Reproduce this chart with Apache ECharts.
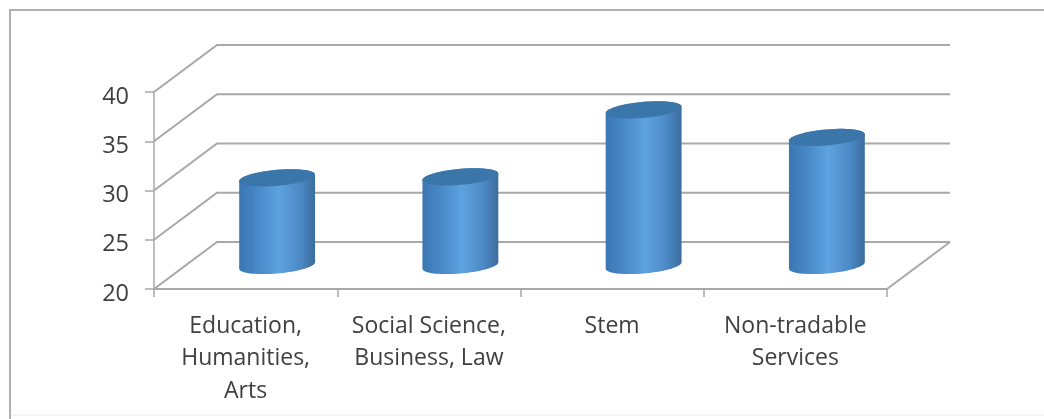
<!DOCTYPE html>
<html><head><meta charset="utf-8">
<script src="https://cdn.jsdelivr.net/npm/echarts@6/dist/echarts.min.js"></script>
<style>html,body{margin:0;padding:0;background:#fff;overflow:hidden}
#c{width:1044px;height:419px;filter:blur(0.6px)}</style></head>
<body><div id="c"></div>
<script>
var categories = ['Education,\nHumanities,\nArts', 'Social Science,\nBusiness, Law', 'Stem', 'Non-tradable\nServices'];
var values = [28.9, 29.0, 35.8, 33.0];
var yTicks = [20, 25, 30, 35, 40];

var DEPTH_X = 63, DEPTH_Y = -47;
var LINE = '#a8a8a8';

function ellipsePts(cx, cy, a, b, s, from, to, n) {
  var pts = [];
  for (var i = 0; i <= n; i++) {
    var t = from + (to - from) * i / n;
    pts.push([cx + a * Math.cos(t), cy + b * Math.sin(t) - s * Math.cos(t)]);
  }
  return pts;
}

var chart = echarts.init(document.getElementById('c'), null, {renderer: 'canvas'});
chart.setOption({
  animation: false,
  backgroundColor: '#fff',
  graphic: [{
    type: 'polyline', silent: true, z: 0,
    shape: {points: [[10, 419], [10, 10], [1044, 10]]},
    style: {fill: null, stroke: '#b0b0b0', lineWidth: 2}
  }, {
    type: 'line', silent: true, z: 0,
    shape: {x1: 11, y1: 415, x2: 1044, y2: 415},
    style: {stroke: '#f4f4f4', lineWidth: 2}
  }],
  grid: {left: 154, right: 157, top: 92, height: 197},
  xAxis: {
    type: 'category', data: categories, boundaryGap: true,
    axisLine: {show: true, lineStyle: {color: LINE, width: 2}},
    axisTick: {show: true, alignWithLabel: false, length: 8, lineStyle: {color: LINE, width: 1.5}},
    axisLabel: {interval: 0, margin: 21, lineHeight: 32.5, fontFamily: 'Open Sans', fontSize: 23, color: '#404040'}
  },
  yAxis: {
    type: 'value', min: 20, max: 40, interval: 5,
    axisLine: {show: true, lineStyle: {color: LINE, width: 1.5}},
    axisTick: {show: true, length: 9, lineStyle: {color: LINE, width: 1.5}},
    splitLine: {show: false},
    axisLabel: {
      margin: 25,
      formatter: '{n|{value}}',
      rich: {n: {padding: [10, 0, 0, 0], fontFamily: 'Open Sans', fontSize: 23.5, color: '#404040'}}
    }
  },
  series: [{
    type: 'custom', coordinateSystem: 'cartesian2d', silent: true, z: 1,
    data: yTicks.map(function (v) { return [0, v]; }),
    encode: {x: 0, y: 1},
    renderItem: function (params, api) {
      var p = api.coord([0, api.value(1)]);
      var box = params.coordSys;
      var x0 = box.x, x1 = box.x + box.width, y = p[1];
      var kids = [{type: 'polyline', shape: {points: [[x0, y], [x0 + DEPTH_X, y + DEPTH_Y], [x1 + DEPTH_X, y + DEPTH_Y]]},
        style: {fill: null, stroke: LINE, lineWidth: 2}}];
      if (api.value(1) === yTicks[0]) {
        kids.push({type: 'line', shape: {x1: x1, y1: y, x2: x1 + DEPTH_X, y2: y + DEPTH_Y},
          style: {stroke: LINE, lineWidth: 2}});
      }
      return {type: 'group', children: kids};
    }
  }, {
    type: 'custom', coordinateSystem: 'cartesian2d', silent: true, z: 3,
    data: values.map(function (v, i) { return [i, v]; }),
    encode: {x: 0, y: 1},
    renderItem: function (params, api) {
      var top = api.coord([api.value(0), api.value(1)]);
      var base = api.coord([api.value(0), yTicks[0]]);
      var bandW = api.size([1, 0])[0];
      var cx = top[0] + DEPTH_X / 2;
      var yT = top[1] + DEPTH_Y / 2, yB = base[1] + DEPTH_Y / 2;
      var a = bandW * 0.207, b = 8, s = 3.2;
      var body = ellipsePts(cx, yB, a, b, s, 0, Math.PI, 40)
        .concat(ellipsePts(cx, yT, a, b, s, Math.PI, 2 * Math.PI, 40));
      var grad = new echarts.graphic.LinearGradient(0, 0, 1, 0, [
        {offset: 0, color: '#3b76b3'},
        {offset: 0.2, color: '#4585c4'},
        {offset: 0.52, color: '#5ea2e0'},
        {offset: 0.8, color: '#4c8ac6'},
        {offset: 1, color: '#3b6c9e'}
      ]);
      return {type: 'group', children: [
        {type: 'polygon', shape: {points: body}, style: {fill: grad}},
        {type: 'polygon', shape: {points: ellipsePts(cx, yT, a, b, s, 0, 2 * Math.PI, 60)}, style: {fill: '#3b76ab'}}
      ]};
    }
  }]
});
</script></body></html>
